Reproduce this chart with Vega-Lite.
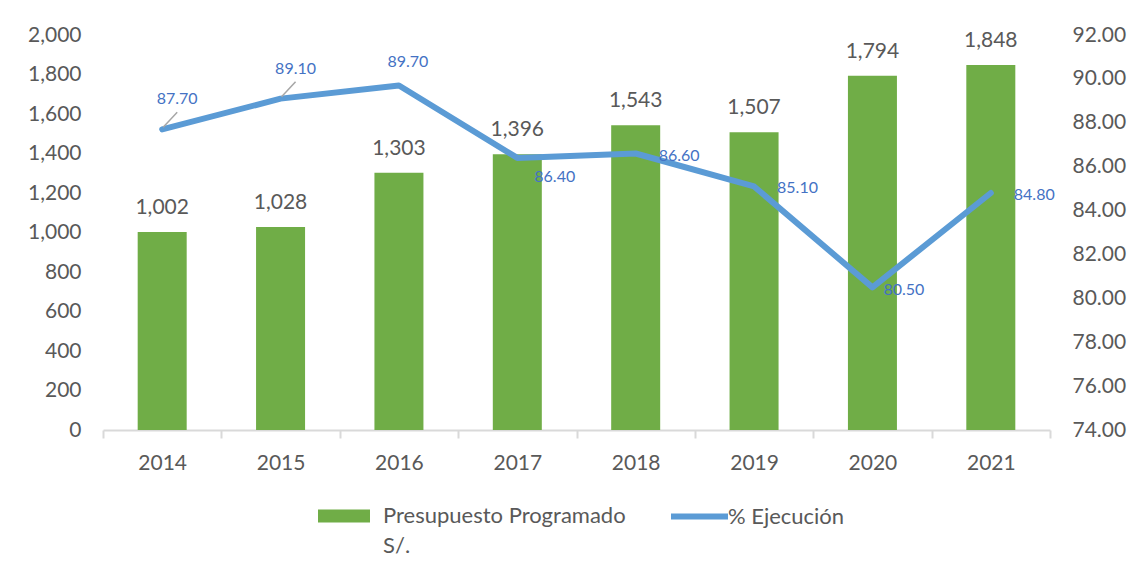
{
  "$schema": "https://vega.github.io/schema/vega-lite/v6.json",
  "width": 947,
  "height": 395,
  "autosize": {"type": "none"},
  "padding": {"left": 103, "top": 35, "right": 93, "bottom": 148},
  "background": "white",
  "config": {
    "view": {"stroke": null},
    "font": "Lato",
    "axis": {"labelFont": "Lato", "grid": false},
    "legend": {"labelFont": "Lato"},
    "style": {"guide-label": {"lineHeight": 30}}
  },
  "data": {
    "values": [
      {"year": "2014", "presupuesto": 1002, "ejecucion": 87.7},
      {"year": "2015", "presupuesto": 1028, "ejecucion": 89.1},
      {"year": "2016", "presupuesto": 1303, "ejecucion": 89.7},
      {"year": "2017", "presupuesto": 1396, "ejecucion": 86.4},
      {"year": "2018", "presupuesto": 1543, "ejecucion": 86.6},
      {"year": "2019", "presupuesto": 1507, "ejecucion": 85.1},
      {"year": "2020", "presupuesto": 1794, "ejecucion": 80.5},
      {"year": "2021", "presupuesto": 1848, "ejecucion": 84.8}
    ]
  },
  "encoding": {
    "x": {
      "field": "year",
      "type": "ordinal",
      "scale": {"paddingInner": 0, "paddingOuter": 0},
      "axis": {
        "title": null,
        "labelAngle": 0,
        "tickBand": "extent",
        "domainColor": "#D9D9D9",
        "domainWidth": 2,
        "tickColor": "#D9D9D9",
        "tickWidth": 2,
        "tickSize": 8,
        "labelFontSize": 21,
        "labelColor": "#595959",
        "labelPadding": 14
      }
    }
  },
  "layer": [
    {
      "encoding": {
        "y": {
          "field": "presupuesto",
          "type": "quantitative",
          "scale": {"domain": [0, 2000], "nice": false},
          "axis": {
            "orient": "left",
            "title": null,
            "values": [0, 200, 400, 600, 800, 1000, 1200, 1400, 1600, 1800, 2000],
            "format": ",.0f",
            "domain": false,
            "ticks": false,
            "labelPadding": 22,
            "labelFontSize": 21,
            "labelColor": "#595959"
          }
        }
      },
      "layer": [
        {
          "mark": {"type": "bar", "width": {"band": 0.414}},
          "encoding": {
            "fill": {
              "datum": "Presupuesto Programado",
              "type": "nominal",
              "scale": {"range": ["#70AD47"]},
              "legend": {
                "title": null,
                "orient": "none",
                "legendX": 215,
                "legendY": 455,
                "padding": 0,
                "symbolType": "M-1,-0.25H1V0.25H-1Z",
                "symbolSize": 2704,
                "symbolStrokeWidth": 0,
                "labelFontSize": 22,
                "labelColor": "#595959",
                "labelOffset": 13,
                "labelLimit": 600,
                "labelExpr": "['Presupuesto Programado', 'S/.']"
              }
            }
          }
        },
        {
          "mark": {"type": "text", "baseline": "alphabetic", "dy": -18, "fontSize": 21, "color": "#595959", "font": "Lato"},
          "encoding": {
            "text": {"field": "presupuesto", "type": "quantitative", "format": ",.0f"}
          }
        }
      ]
    },
    {
      "encoding": {
        "y": {
          "field": "ejecucion",
          "type": "quantitative",
          "scale": {"domain": [74, 92], "nice": false, "zero": false},
          "axis": {
            "orient": "right",
            "title": null,
            "values": [74, 76, 78, 80, 82, 84, 86, 88, 90, 92],
            "format": ".2f",
            "domain": false,
            "ticks": false,
            "labelPadding": 22,
            "labelFontSize": 21,
            "labelColor": "#595959"
          }
        }
      },
      "layer": [
        {
          "mark": {"type": "line", "strokeWidth": 6, "strokeJoin": "round", "strokeCap": "round"},
          "encoding": {
            "stroke": {
              "datum": "% Ejecución",
              "type": "nominal",
              "scale": {"range": ["#5B9BD5"]},
              "legend": {
                "title": null,
                "orient": "none",
                "legendX": 565,
                "legendY": 450,
                "padding": 0,
                "symbolType": "stroke",
                "symbolSize": 3249,
                "symbolStrokeWidth": 6,
                "labelFontSize": 22,
                "labelColor": "#595959",
                "labelOffset": -3,
                "labelLimit": 600
              }
            }
          }
        },
        {
          "transform": [{"filter": "datum.year == '2014' || datum.year == '2015'"}],
          "mark": {"type": "rule", "color": "#A6A6A6", "strokeWidth": 1.5, "xOffset": 1, "x2Offset": 15, "yOffset": -2, "y2Offset": -17},
          "encoding": {
            "x2": {"field": "year"},
            "y2": {"field": "ejecucion"}
          }
        },
        {
          "transform": [{"filter": "datum.year == '2014' || datum.year == '2015'"}],
          "mark": {"type": "text", "align": "center", "baseline": "alphabetic", "dx": 15, "dy": -25, "fontSize": 16, "color": "#4472C4", "font": "Lato"},
          "encoding": {"text": {"field": "ejecucion", "type": "quantitative", "format": ".2f"}}
        },
        {
          "transform": [{"filter": "datum.year == '2016'"}],
          "mark": {"type": "text", "align": "center", "baseline": "alphabetic", "dx": 9, "dy": -18, "fontSize": 16, "color": "#4472C4", "font": "Lato"},
          "encoding": {"text": {"field": "ejecucion", "type": "quantitative", "format": ".2f"}}
        },
        {
          "transform": [{"filter": "datum.year == '2017'"}],
          "mark": {"type": "text", "align": "left", "baseline": "alphabetic", "dx": 17, "dy": 24, "fontSize": 16, "color": "#4472C4", "font": "Lato"},
          "encoding": {"text": {"field": "ejecucion", "type": "quantitative", "format": ".2f"}}
        },
        {
          "transform": [{"filter": "datum.year == '2018' || datum.year == '2019' || datum.year == '2021'"}],
          "mark": {"type": "text", "align": "left", "baseline": "alphabetic", "dx": 23, "dy": 7, "fontSize": 16, "color": "#4472C4", "font": "Lato"},
          "encoding": {"text": {"field": "ejecucion", "type": "quantitative", "format": ".2f"}}
        },
        {
          "transform": [{"filter": "datum.year == '2020'"}],
          "mark": {"type": "text", "align": "left", "baseline": "alphabetic", "dx": 11, "dy": 8, "fontSize": 16, "color": "#4472C4", "font": "Lato"},
          "encoding": {"text": {"field": "ejecucion", "type": "quantitative", "format": ".2f"}}
        }
      ]
    }
  ],
  "resolve": {"scale": {"y": "independent"}}
}
